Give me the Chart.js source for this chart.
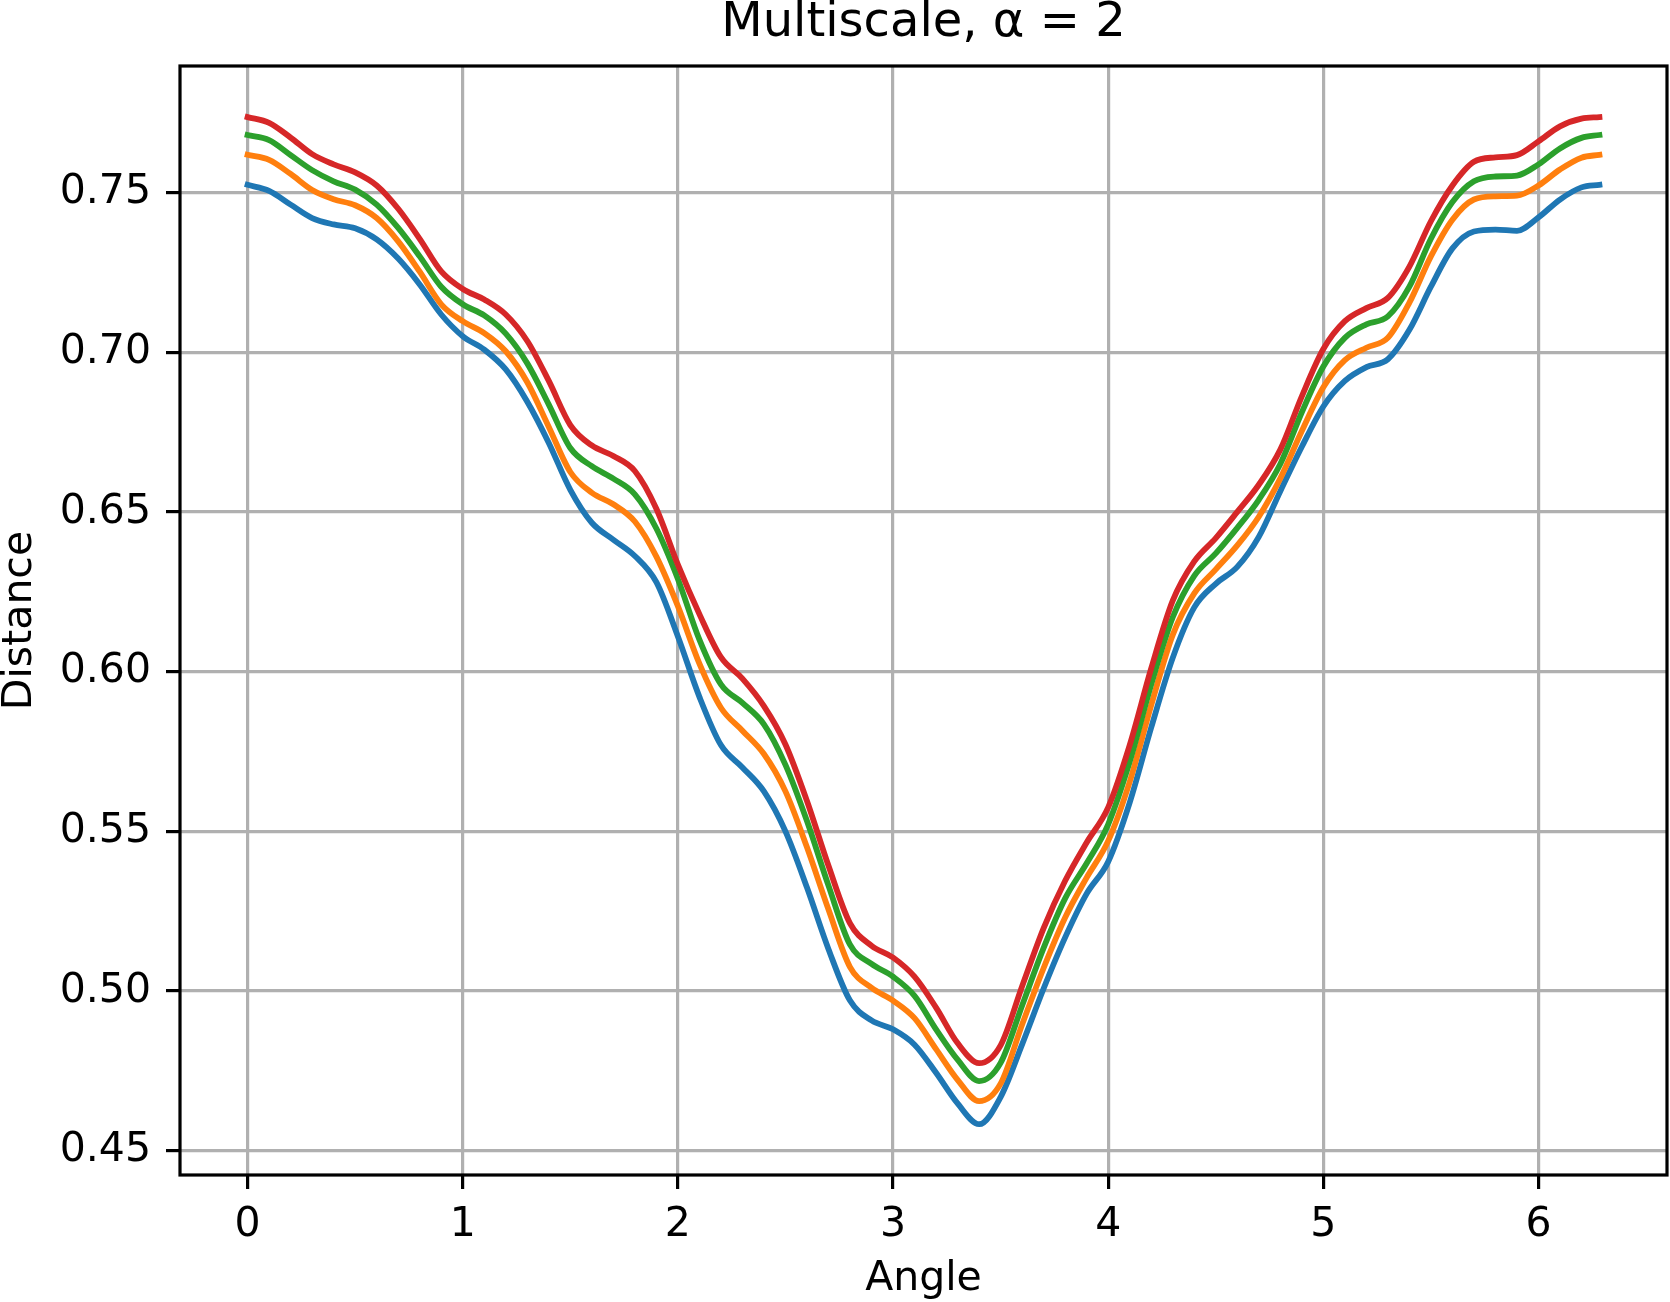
<!DOCTYPE html>
<html><head><meta charset="utf-8">
<script src="https://cdn.jsdelivr.net/npm/chart.js@4.4.1/dist/chart.umd.min.js"></script>
<style>html,body{margin:0;padding:0;background:#fff;} canvas{display:block;}</style>
</head><body>
<canvas id="c" width="1670" height="1302" style="width:1670px;height:1302px"></canvas>
<script>
const angles = [0,0.1,0.2,0.3,0.4,0.5,0.6,0.7,0.8,0.9,
  1.0,1.1,1.2,1.3,1.4,1.5,1.6,1.7,1.8,1.9,
  2.0,2.1,2.2,2.3,2.4,2.5,2.6,2.7,2.8,2.9,
  3.0,3.1,3.2,3.3,3.4,3.5,3.6,3.7,3.8,3.9,
  4.0,4.1,4.2,4.3,4.4,4.5,4.6,4.7,4.8,4.9,
  5.0,5.1,5.2,5.3,5.4,5.5,5.6,5.7,5.8,5.9,
  6.0,6.1,6.2,6.2832];

const blueDist = [0.7524,0.7505,0.7462,0.7420,0.7400,0.7388,0.7353,0.7293,0.7212,0.7118,
  0.7050,0.7008,0.6946,0.6845,0.6716,0.6569,0.6466,0.6413,0.6362,0.6280,
  0.6110,0.5921,0.5770,0.5700,0.5625,0.5500,0.5324,0.5131,0.4970,0.4908,
  0.4880,0.4832,0.4744,0.4648,0.4583,0.4668,0.4833,0.5008,0.5168,0.5305,
  0.5405,0.5590,0.5825,0.6043,0.6201,0.6275,0.6328,0.6422,0.6565,0.6704,
  0.6830,0.6910,0.6953,0.6978,0.7070,0.7205,0.7325,0.7378,0.7384,0.7380,
  0.7422,0.7478,0.7516,0.7524];

const orangeDist = [0.7618,0.7602,0.7558,0.7508,0.7479,0.7460,0.7420,0.7347,0.7252,0.7150,
  0.7097,0.7060,0.7003,0.6906,0.6766,0.6625,0.6560,0.6524,0.6470,0.6360,
  0.6205,0.6025,0.5887,0.5815,0.5742,0.5625,0.5450,0.5255,0.5075,0.5010,
  0.4970,0.4915,0.4818,0.4722,0.4655,0.4710,0.4895,0.5072,0.5230,0.5355,
  0.5470,0.5655,0.5895,0.6115,0.6245,0.6320,0.6395,0.6485,0.6605,0.6753,
  0.6890,0.6975,0.7014,0.7045,0.7155,0.7300,0.7415,0.7478,0.7488,0.7490,
  0.7522,0.7572,0.7609,0.7618];

const greenDist = [0.7680,0.7664,0.7617,0.7570,0.7535,0.7509,0.7462,0.7389,0.7300,0.7205,
  0.7150,0.7115,0.7058,0.6965,0.6836,0.6700,0.6643,0.6604,0.6555,0.6448,
  0.6290,0.6100,0.5960,0.5902,0.5835,0.5708,0.5532,0.5330,0.5145,0.5085,
  0.5045,0.4985,0.4880,0.4785,0.4718,0.4775,0.4955,0.5135,0.5290,0.5400,
  0.5522,0.5718,0.5960,0.6170,0.6300,0.6370,0.6450,0.6538,0.6650,0.6812,
  0.6955,0.7045,0.7087,0.7112,0.7205,0.7355,0.7470,0.7535,0.7550,0.7553,
  0.7588,0.7638,0.7671,0.7680];

const redDist = [0.7736,0.7718,0.7672,0.7620,0.7588,0.7563,0.7522,0.7449,0.7355,0.7253,
  0.7198,0.7165,0.7118,0.7035,0.6910,0.6772,0.6708,0.6675,0.6628,0.6510,
  0.6335,0.6180,0.6045,0.5978,0.5892,0.5772,0.5595,0.5392,0.5212,0.5142,
  0.5105,0.5045,0.4948,0.4837,0.4774,0.4830,0.5015,0.5197,0.5345,0.5465,
  0.5575,0.5770,0.6010,0.6222,0.6345,0.6418,0.6500,0.6585,0.6695,0.6862,
  0.7010,0.7097,0.7138,0.7170,0.7268,0.7410,0.7522,0.7596,0.7610,0.7617,
  0.7660,0.7707,0.7731,0.7736];

const xTicks = [0,1,2,3,4,5,6];
const yTicks = [0.45,0.50,0.55,0.60,0.65,0.70,0.75];

const seriesList = [blueDist, orangeDist, greenDist, redDist];
const colors = ['#1f77b4','#ff7f0e','#2ca02c','#d62728'];

const FONT = "'DejaVu Sans', 'Liberation Sans', sans-serif";
Chart.defaults.font.family = FONT;
Chart.defaults.color = '#000';

const frame = {
  id: 'frame',
  afterDatasetsDraw(chart) {
    const {ctx, chartArea: a} = chart;
    ctx.save();
    ctx.strokeStyle = '#000';
    ctx.lineWidth = 3.2;
    ctx.lineJoin = 'miter';
    ctx.strokeRect(a.left, a.top, a.right - a.left, a.bottom - a.top);
    ctx.restore();
  }
};

const datasets = seriesList.map((vals, i) => ({
  data: angles.map((a, j) => ({x: a, y: vals[j]})),
  borderColor: colors[i],
  backgroundColor: colors[i],
  borderWidth: 5.8,
  borderCapStyle: 'square',
  borderJoinStyle: 'round',
  pointRadius: 0,
  fill: false,
  cubicInterpolationMode: 'monotone',
  order: seriesList.length - 1 - i
}));

new Chart(document.getElementById('c'), {
  type: 'line',
  data: {datasets},
  plugins: [frame],
  options: {
    responsive: false,
    animation: false,
    devicePixelRatio: 1,
    layout: {padding: {left: 0, right: 3, top: 0, bottom: 0}},
    plugins: {
      legend: {display: false},
      tooltip: {enabled: false},
      title: {
        display: true,
        text: 'Multiscale, α = 2',
        fullSize: false,
        color: '#000',
        font: {size: 48, weight: 'normal', lineHeight: 1},
        padding: {top: 0, bottom: 18}
      }
    },
    scales: {
      x: {
        type: 'linear',
        min: -0.31416,
        max: 6.59734,
        afterFit: s => { s.height = 127; },
        afterBuildTicks: s => { s.ticks = xTicks.map(v => ({value: v})); },
        border: {display: false},
        grid: {color: '#b0b0b0', lineWidth: 3.2, tickColor: '#000', tickWidth: 3.2, tickLength: 14},
        ticks: {color: '#000', font: {size: 41, lineHeight: 1}, padding: 16, maxRotation: 0, autoSkip: false,
                callback: v => String(v)},
        title: {display: true, text: 'Angle', color: '#000', font: {size: 41, lineHeight: 1}, padding: {top: 0, bottom: 2}}
      },
      y: {
        type: 'linear',
        min: 0.4424,
        max: 0.7896,
        afterFit: s => { s.width = 180; },
        afterBuildTicks: s => { s.ticks = yTicks.map(v => ({value: v})); },
        border: {display: false},
        grid: {color: '#b0b0b0', lineWidth: 3.2, tickColor: '#000', tickWidth: 3.2, tickLength: 14},
        ticks: {color: '#000', font: {size: 41, lineHeight: 1}, padding: 15, autoSkip: false,
                callback: v => v.toFixed(2)},
        title: {display: true, text: 'Distance', color: '#000', font: {size: 41, lineHeight: 1}, padding: {top: 0, bottom: 0}}
      }
    }
  }
});
</script>
</body></html>
